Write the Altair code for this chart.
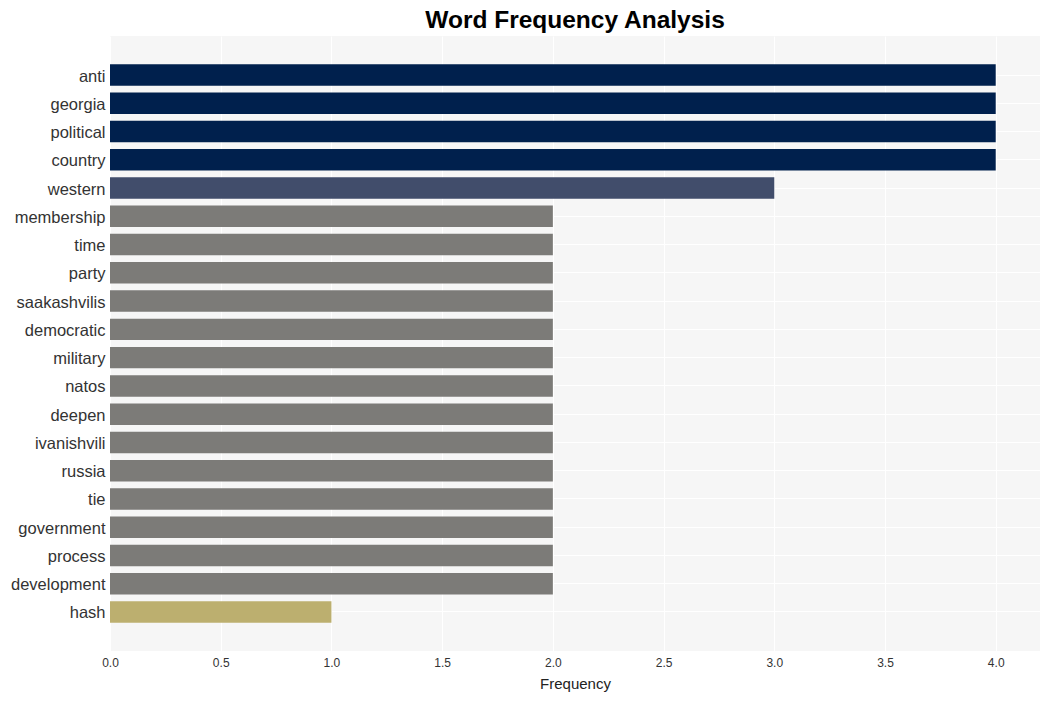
import altair as alt
import pandas as pd

words = ["anti", "georgia", "political", "country", "western", "membership", "time",
         "party", "saakashvilis", "democratic", "military", "natos", "deepen",
         "ivanishvili", "russia", "tie", "government", "process", "development", "hash"]
freqs = [4, 4, 4, 4, 3, 2, 2, 2, 2, 2, 2, 2, 2, 2, 2, 2, 2, 2, 2, 1]

freq_levels = [4, 3, 2, 1]
freq_colors = ["#00204d", "#414d6b", "#7c7b78", "#bcaf6f"]

df = pd.DataFrame({"word": words, "freq": freqs})

bars = alt.Chart(df).mark_bar().encode(
    x=alt.X("freq:Q", title="Frequency",
            scale=alt.Scale(domain=[0, 4.2], nice=False, zero=True),
            axis=alt.Axis(values=[0, 0.5, 1, 1.5, 2, 2.5, 3, 3.5, 4], format=".1f",
                          ticks=False, domain=False, grid=True, gridColor="white",
                          gridWidth=1, labelFontSize=12, labelColor="#333333",
                          labelPadding=6, labelFont="Liberation Sans", labelFlush=False,
                          titleFont="Liberation Sans", titleFontSize=15,
                          titleFontWeight="normal", titleColor="#222222",
                          titlePadding=8)),
    y=alt.Y("word:N", sort=words, title=None,
            scale=alt.Scale(paddingInner=0.24, paddingOuter=1.0),
            axis=alt.Axis(ticks=False, domain=False, grid=True, gridColor="white",
                          gridWidth=1, labelFontSize=16.5, labelColor="#333333",
                          labelPadding=5, labelOffset=1.5, labelFont="Liberation Sans")),
    color=alt.Color("freq:O", scale=alt.Scale(domain=freq_levels, range=freq_colors),
                    legend=None),
)

chart = bars.properties(
    width=930, height=615,
    background="white",
    padding={"left": 110, "top": 36, "right": 10, "bottom": 50},
    autosize=alt.AutoSizeParams(type="none"),
    title=alt.TitleParams("Word Frequency Analysis", fontSize=24.5, font="Liberation Sans",
                          fontWeight="bold", color="#000000", anchor="middle", offset=3),
).configure_view(fill="#f6f6f6", stroke="transparent", strokeWidth=0)

chart.save("out.html", embed_options={"renderer": "svg", "actions": False})
